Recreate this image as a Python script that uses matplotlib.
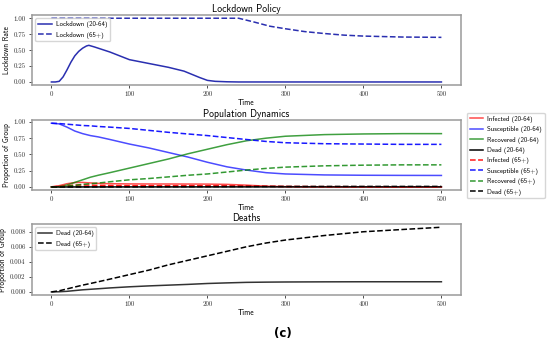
"""Lockdown policy, population dynamics and deaths for two age groups."""

import matplotlib

matplotlib.use("Agg")
import matplotlib.pyplot as plt
from matplotlib.ticker import FormatStrFormatter, MultipleLocator

SANS = ["cmss10", "DejaVu Sans"]
SERIF = ["cmr10", "DejaVu Serif"]

# lockdown policy
lock_time = [0, 5, 10, 15, 20, 25, 30, 35, 40, 45, 48, 55, 60, 75, 100, 125, 150, 170, 180,
             190, 200, 210, 225, 240, 260, 280, 300, 325, 350, 375, 400, 450, 500]
lock_young = [0, 0, 0.01, 0.08, 0.19, 0.31, 0.41, 0.48, 0.53, 0.565, 0.575, 0.55, 0.53, 0.47,
              0.35, 0.29, 0.23, 0.17, 0.12, 0.07, 0.025, 0.01, 0.003, 0, 0, 0, 0, 0, 0, 0, 0, 0, 0]
lock_old = [1, 1, 1, 1, 1, 1, 1, 1, 1, 1, 1, 1, 1, 1, 1, 1, 1, 1, 1, 1, 1, 1, 1, 1,
            0.94, 0.875, 0.835, 0.79, 0.76, 0.735, 0.72, 0.705, 0.70]

# population dynamics
time = [0, 10, 20, 30, 40, 50, 60, 75, 100, 125, 150, 175, 200, 225, 250, 275, 300, 350, 400, 450, 500]
infected_young = [0.002, 0.02, 0.05, 0.068, 0.07, 0.062, 0.055, 0.05, 0.047, 0.046, 0.046, 0.045,
                  0.044, 0.04, 0.028, 0.012, 0.005, 0.002, 0.001, 0.0, 0.0]
susceptible_young = [0.98, 0.97, 0.92, 0.86, 0.82, 0.79, 0.77, 0.73, 0.66, 0.60, 0.53, 0.46, 0.38,
                     0.31, 0.26, 0.22, 0.20, 0.185, 0.18, 0.178, 0.177]
recovered_young = [0, 0.005, 0.03, 0.07, 0.11, 0.15, 0.18, 0.22, 0.29, 0.36, 0.43, 0.51, 0.58, 0.65,
                   0.71, 0.75, 0.78, 0.805, 0.815, 0.82, 0.82]
dead_young = [0, 0.00002, 0.00008, 0.00018, 0.00028, 0.00035, 0.00042, 0.00053, 0.00068, 0.0008,
              0.0009, 0.001, 0.00112, 0.0012, 0.00127, 0.0013, 0.00132, 0.00134, 0.00135, 0.00135, 0.00135]
infected_old = [0.001, 0.008, 0.02, 0.028, 0.03, 0.028, 0.025, 0.022, 0.02, 0.02, 0.02, 0.02, 0.019,
                0.018, 0.015, 0.011, 0.008, 0.005, 0.004, 0.003, 0.003]
susceptible_old = [0.98, 0.975, 0.965, 0.955, 0.945, 0.94, 0.93, 0.92, 0.90, 0.87, 0.84, 0.815, 0.79,
                   0.76, 0.73, 0.70, 0.68, 0.665, 0.66, 0.655, 0.655]
recovered_old = [0, 0.003, 0.012, 0.025, 0.04, 0.05, 0.06, 0.08, 0.11, 0.13, 0.155, 0.18, 0.20, 0.23,
                 0.26, 0.285, 0.305, 0.325, 0.335, 0.34, 0.34]
dead_old = [0, 0.00015, 0.0004, 0.00065, 0.0009, 0.00112, 0.00135, 0.0017, 0.0023, 0.0029, 0.0036,
            0.0042, 0.0048, 0.0054, 0.006, 0.0065, 0.0069, 0.0075, 0.0080, 0.0083, 0.0086]


def style_axes(ax, title, ylabel, fmt):
    ax.set_title(title, fontsize=7, family=SANS, pad=2)
    ax.set_xlabel("Time", fontsize=5.5, family=SANS, labelpad=1)
    ax.set_ylabel(ylabel, fontsize=5.3, family=SANS, labelpad=2)
    ax.xaxis.set_major_locator(MultipleLocator(100))
    ax.yaxis.set_major_formatter(FormatStrFormatter(fmt))
    ax.tick_params(labelsize=5, length=2.5, width=0.6, pad=2, colors="#333333")
    for label in ax.get_xticklabels() + ax.get_yticklabels():
        label.set_family(SERIF)
    for spine in ax.spines.values():
        spine.set_color("#9a9a9a")
        spine.set_linewidth(1.1)


def legend_kw():
    return dict(prop={"family": SANS, "size": 4.9}, handlelength=2.0, labelspacing=0.5,
                borderpad=0.4, handletextpad=0.6, fancybox=True, framealpha=0.8, edgecolor="#cccccc")


def main():
    fig = plt.figure(figsize=(5.5, 3.42), dpi=100)
    ax1 = fig.add_axes([0.058, 0.751, 0.780, 0.205])
    ax2 = fig.add_axes([0.058, 0.444, 0.780, 0.205])
    ax3 = fig.add_axes([0.058, 0.137, 0.780, 0.208])

    lock_color = "#2a2fb0"
    ax1.plot(lock_time, lock_young, color=lock_color, lw=1.1, label="Lockdown (20-64)")
    ax1.plot(lock_time, lock_old, color=lock_color, lw=1.1, ls="--", label="Lockdown (65+)")
    ax1.yaxis.set_major_locator(MultipleLocator(0.25))
    style_axes(ax1, "Lockdown Policy", "Lockdown Rate", "%.2f")
    ax1.legend(loc="upper left", **legend_kw())

    ax2.plot(time, infected_young, color="red", alpha=0.7, lw=1.1, label="Infected (20-64)")
    ax2.plot(time, susceptible_young, color="blue", alpha=0.7, lw=1.1, label="Susceptible (20-64)")
    ax2.plot(time, recovered_young, color="green", alpha=0.75, lw=1.1, label="Recovered (20-64)")
    ax2.plot(time, dead_young, color="black", lw=1.1, label="Dead (20-64)")
    ax2.plot(time, infected_old, color="red", ls="--", alpha=0.9, lw=1.1, label="Infected (65+)")
    ax2.plot(time, susceptible_old, color="blue", ls="--", alpha=0.9, lw=1.1, label="Susceptible (65+)")
    ax2.plot(time, recovered_old, color="green", ls="--", alpha=0.8, lw=1.1, label="Recovered (65+)")
    ax2.plot(time, dead_old, color="black", ls="--", lw=1.1, label="Dead (65+)")
    ax2.yaxis.set_major_locator(MultipleLocator(0.25))
    style_axes(ax2, "Population Dynamics", "Proportion of Group", "%.2f")
    ax2.legend(loc="upper left", bbox_to_anchor=(1.014, 1.10), borderaxespad=0, **legend_kw())

    ax3.plot(time, dead_young, color="black", alpha=0.8, lw=1.1, label="Dead (20-64)")
    ax3.plot(time, dead_old, color="black", ls="--", lw=1.1, label="Dead (65+)")
    ax3.yaxis.set_major_locator(MultipleLocator(0.002))
    style_axes(ax3, "Deaths", "Proportion of Group", "%.3f")
    ax3.legend(loc="upper left", **legend_kw())

    fig.text(0.515, 0.015, "(c)", fontsize=8.5, fontweight="bold", family="DejaVu Sans", ha="center")
    fig.savefig("out.png", dpi=100)


if __name__ == "__main__":
    main()
